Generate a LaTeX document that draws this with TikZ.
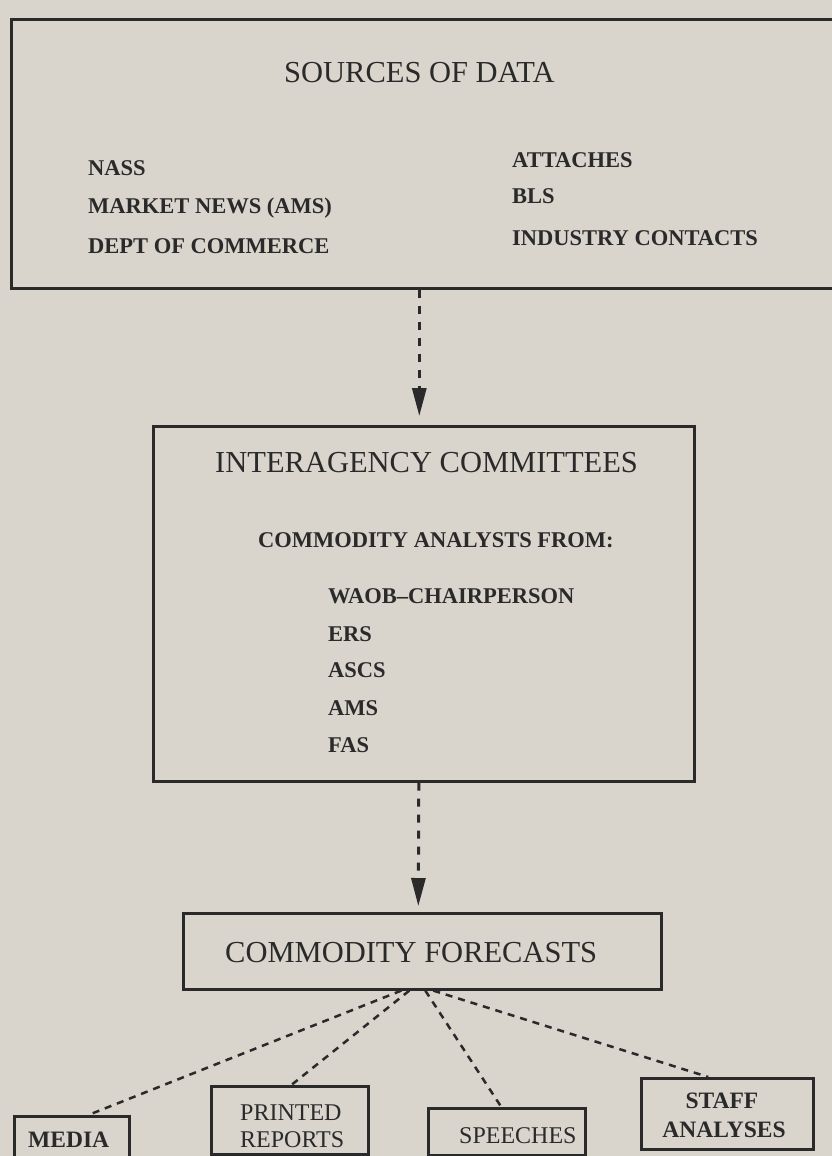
\documentclass[tikz,border=0pt]{standalone}
\usepackage{fontspec}
\setmainfont{Liberation Serif}
\usetikzlibrary{arrows.meta}
\definecolor{bg}{HTML}{D9D4CC}
\definecolor{ink}{HTML}{2A2A2A}
\begin{document}
\begin{tikzpicture}[x=1pt,y=-1pt,
  box/.style={draw=ink, line width=2.6pt, inner sep=0pt, anchor=north west},
  head/.style={font=\fontsize{30.5}{36}\selectfont, text=ink, inner sep=0pt, anchor=base west},
  item/.style={font=\fontsize{22.5}{27}\selectfont\bfseries, text=ink, inner sep=0pt, anchor=base west},
  leaf/.style={font=\fontsize{24}{28}\selectfont, text=ink, inner sep=0pt, anchor=base west},
  leafb/.style={font=\fontsize{23.5}{28}\selectfont\bfseries, text=ink, inner sep=0pt},
  flow/.style={draw=ink, line width=3pt, dash pattern=on 8pt off 8pt, -{Triangle[length=28pt,width=14pt]}},
  fan/.style={draw=ink, line width=2.5pt, dash pattern=on 7pt off 6pt}]
\fill[bg] (0,0) rectangle (832,1156);
\clip (0,0) rectangle (832,1156);

% Sources of data
\node[box, minimum width=840pt, minimum height=269pt] (src) at (10,18) {};
\node[head] (srct) at (284,82) {SOURCES OF DATA};
\node[item] (s1) at (88,175) {NASS};
\node[item] (s2) at (88,213) {MARKET NEWS (AMS)};
\node[item] (s3) at (88,253) {DEPT OF COMMERCE};
\node[item] (s4) at (512,167) {ATTACHES};
\node[item] (s5) at (512,203) {BLS};
\node[item] (s6) at (512,245) {INDUSTRY CONTACTS};

% Interagency committees
\node[box, minimum width=541pt, minimum height=355pt] (inter) at (152,425) {};
\node[head] (intert) at (215,472) {INTERAGENCY COMMITTEES};
\node[item] (ca) at (258,547) {COMMODITY ANALYSTS FROM:};
\node[item] (a1) at (328,603) {WAOB--CHAIRPERSON};
\node[item] (a2) at (328,641) {ERS};
\node[item] (a3) at (328,677) {ASCS};
\node[item] (a4) at (328,715) {AMS};
\node[item] (a5) at (328,752) {FAS};

% Commodity forecasts
\node[box, minimum width=478pt, minimum height=76pt] (cf) at (182,912) {};
\node[head] (cft) at (225,962) {COMMODITY FORECASTS};

% Outlets
\node[box, minimum width=115pt, minimum height=60pt] (media) at (13,1115) {};
\node[box, minimum width=157pt, minimum height=68pt] (printed) at (210,1085) {};
\node[box, minimum width=157pt, minimum height=47pt] (speeches) at (427,1107) {};
\node[box, minimum width=172pt, minimum height=71pt] (staff) at (640,1077) {};
\node[leafb, anchor=base west] (mediat) at (28,1147) {MEDIA};
\node[leaf] (pr1) at (240,1120) {PRINTED};
\node[leaf] (pr2) at (240,1147) {REPORTS};
\node[leaf] (spt) at (459,1143) {SPEECHES};
\node[leafb, anchor=base] (st1) at (722,1108) {STAFF};
\node[leafb, anchor=base] (st2) at (724,1137) {ANALYSES};

% Connectors
\draw[flow, shorten >=9pt] ([xshift=-4.5pt]src.south -| inter.north) -- ([xshift=-4.5pt]inter.north);
\draw[flow, shorten >=6pt] ([xshift=-5pt]inter.south) -- ([xshift=-4pt]cf.north);
\draw[fan] ([xshift=-21pt]cf.south) -- ([xshift=16.5pt]media.north);
\draw[fan] ([xshift=-13pt]cf.south) -- ([xshift=1.5pt]printed.north);
\draw[fan] ([xshift=3pt]cf.south) -- ([xshift=-5.5pt]speeches.north);
\draw[fan] ([xshift=11pt]cf.south) -- ([xshift=-19pt]staff.north);
\end{tikzpicture}
\end{document}
